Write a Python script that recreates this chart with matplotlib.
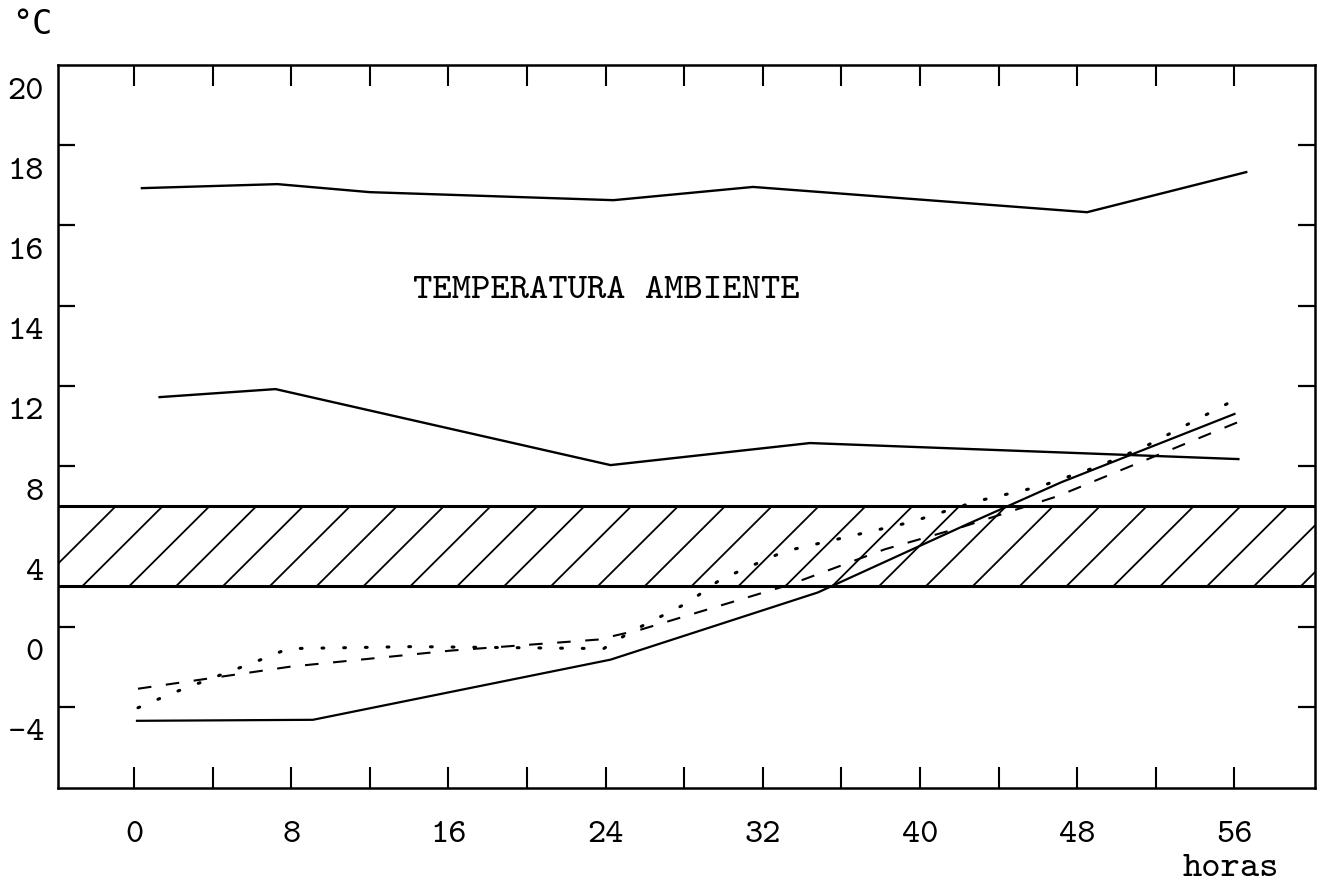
import numpy as np
import matplotlib
matplotlib.use("Agg")
import matplotlib.pyplot as plt
from matplotlib.transforms import ScaledTranslation

plt.rcParams['axes.unicode_minus'] = False
FONT = ['cmtt10', 'DejaVu Sans Mono']

# ---- data (hours, degC) ----
amb_hi_h = [0.4, 7.3, 12.0, 24.4, 31.5, 48.5, 56.6]
amb_hi_t = [17.93, 18.03, 17.83, 17.63, 17.96, 17.33, 18.33]

amb_lo_h = [1.3, 7.2, 24.25, 34.4, 56.2]
amb_lo_t = [12.72, 12.92, 10.05, 11.15, 10.35]

solid_h = [0.15, 9.1, 24.25, 34.8, 42.4, 47.2, 56.0]
solid_t = [-2.70, -2.65, 0.35, 3.70, 7.10, 9.20, 12.30]

dash_h = [0.2, 7.95, 16.1, 23.6, 25.8, 33.4, 38.2, 42.1, 47.0, 50.6, 56.2]
dash_t = [-1.10, 0.00, 0.80, 1.35, 1.85, 4.10, 5.85, 6.95, 8.50, 9.95, 12.10]

dot_h = [0.2, 2.0, 6.2, 7.85, 14.2, 23.9, 25.3, 28.2, 29.85, 33.1, 36.2,
         39.5, 42.9, 46.15, 49.1, 51.4, 56.2]
dot_t = [-2.05, -1.30, 0.25, 0.90, 1.00, 0.90, 1.75, 3.20, 4.35, 5.75, 6.45,
         7.20, 8.25, 9.00, 10.00, 10.95, 12.70]

band_lo, band_hi = 4, 8

x_ticks = list(range(0, 57, 4))
x_labels = [str(v) if v % 8 == 0 else '' for v in x_ticks]
y_label_vals = [20, 18, 16, 14, 12, 8, 4, 0, -4]
y_label_txt = ['20', '18', '16', '14', '12', '8', '4', '0', '-4']
y_mark_vals = [20, 19, 18, 17, 16, 15, 14, 13, 12, 10, 2, 0, -2, -4]

# ---- non-uniform vertical scale of the original (upper part doubled) ----
def fwd(y):
    y = np.asarray(y, float)
    return np.where(y < 12, y - 12, 2 * (y - 12))

def inv(u):
    u = np.asarray(u, float)
    return np.where(u < 0, u + 12, u / 2 + 12)

W, H = 1322, 883
fig = plt.figure(figsize=(W / 100, H / 100), dpi=100)
ax = fig.add_axes([58 / W, 1 - 788 / H, (1315 - 58) / W, (788 - 65) / H])
ax.set_yscale('function', functions=(fwd, inv))
ax.set_xlim(-3.87, 60.1)
ax.set_ylim(-6.05, 21.0)

for s in ax.spines.values():
    s.set_linewidth(1.8)

# hatched band
ax.axhline(band_hi, color='k', lw=2.2)
ax.axhline(band_lo, color='k', lw=2.2)
hatch_step = 2.385
hatch_run = 4.1
for x0 in np.arange(-5.03, 61, hatch_step):
    ax.plot([x0, x0 + hatch_run], [band_lo, band_hi], color='k', lw=1.3,
            solid_capstyle='butt')

# curves
ax.plot(amb_hi_h, amb_hi_t, color='k', lw=1.7)
ax.plot(amb_lo_h, amb_lo_t, color='k', lw=1.7)
ax.plot(solid_h, solid_t, color='k', lw=1.6)
ax.plot(dash_h, dash_t, color='k', lw=1.5, linestyle=(0, (6.5, 7)))
ax.plot(dot_h, dot_t, color='k', lw=2.2, linestyle=(0, (0.6, 6.5)),
        dash_capstyle='round')

ax.text(24.05, 15.36, 'TEMPERATURA AMBIENTE', ha='center', va='center',
        fontsize=26.5, family=FONT)

# x ticks (bottom and top, inward)
ax.set_xticks(x_ticks)
ax.set_xticklabels(x_labels, family=FONT, fontsize=25)
ax.tick_params(axis='x', which='major', direction='in', length=15, width=1.5,
               top=True, bottom=True, pad=24)

# y ticks: marks as minor ticks, labels as major ticks
ax.set_yticks(y_mark_vals, minor=True)
ax.set_yticks(y_label_vals)
ax.set_yticklabels(y_label_txt, family=FONT, fontsize=25)
ax.tick_params(axis='y', which='minor', direction='in', length=12, width=1.6,
               left=True, right=True, labelleft=False)
ax.tick_params(axis='y', which='major', length=0, pad=10)

offset = ScaledTranslation(0, 17 / 100, fig.dpi_scale_trans)
for lab in ax.get_yticklabels():
    lab.set_transform(lab.get_transform() + offset)

fig.text(12 / W, 1 - 25 / H, '°C', ha='left', va='center', fontsize=24,
         family=['DejaVu Sans Mono'])
fig.text(1231 / W, 1 - 869 / H, 'horas', ha='center', va='center', fontsize=26.5,
         family=FONT)

fig.savefig('out.png', dpi=100)
